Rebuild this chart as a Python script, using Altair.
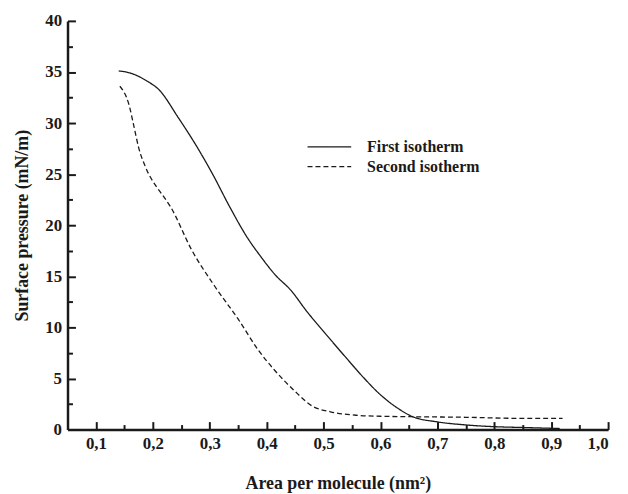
import altair as alt
import pandas as pd

first_x = [0.14, 0.16, 0.19, 0.21, 0.245, 0.275, 0.305, 0.335, 0.367, 0.39, 0.414, 0.443,
           0.47, 0.50, 0.54, 0.57, 0.60, 0.63, 0.657, 0.70, 0.75, 0.80, 0.85, 0.915]
first_y = [35.1, 34.9, 34.1, 33.3, 30.5, 27.9, 25.0, 21.8, 18.7, 16.9, 15.2, 13.6,
           11.6, 9.6, 7.0, 5.1, 3.4, 2.1, 1.25, 0.75, 0.45, 0.28, 0.2, 0.1]

second_x = [0.142, 0.158, 0.167, 0.175, 0.187, 0.207, 0.219, 0.231, 0.268, 0.309, 0.350,
            0.385, 0.414, 0.448, 0.480, 0.512, 0.557, 0.60, 0.663, 0.75, 0.837, 0.92]
second_y = [33.6, 31.8, 29.6, 27.6, 25.7, 23.7, 22.8, 21.8, 17.6, 14.0, 10.8,
            7.8, 5.8, 3.84, 2.3, 1.74, 1.4, 1.3, 1.25, 1.2, 1.1, 1.1]

series_names = ["First isotherm", "Second isotherm"]
x_major = [0.1, 0.2, 0.3, 0.4, 0.5, 0.6, 0.7, 0.8, 0.9, 1.0]
x_minor = [0.05, 0.15, 0.25, 0.35, 0.45, 0.55, 0.65, 0.75, 0.85, 0.95]
y_major = [0, 5, 10, 15, 20, 25, 30, 35, 40]
y_minor = [2.5, 7.5, 12.5, 17.5, 22.5, 27.5, 32.5, 37.5]

rows = []
for i, (xv, yv) in enumerate(zip(first_x, first_y)):
    rows.append({"x": xv, "y": yv, "series": series_names[0], "order": i})
for i, (xv, yv) in enumerate(zip(second_x, second_y)):
    rows.append({"x": xv, "y": yv, "series": series_names[1], "order": i})
df = pd.DataFrame(rows)

W, H = 545, 412
FONT = "Liberation Serif"
INK = "#1a1a1a"

xscale = alt.Scale(domain=[0.05, 1.0], nice=False, zero=False)
yscale = alt.Scale(domain=[0, 40], nice=False)

lines = alt.Chart(df).mark_line(strokeWidth=1.3, color=INK, interpolate="monotone").encode(
    x=alt.X("x:Q", scale=xscale, title="Area per molecule (nm²)",
            axis=alt.Axis(values=x_major, format=".1f",
                          labelExpr="replace(datum.label, '.', ',')",
                          ticks=False, grid=False, labelPadding=6,
                          domainWidth=2.5, domainColor=INK,
                          titlePadding=23)),
    y=alt.Y("y:Q", scale=yscale, title="Surface pressure (mN/m)",
            axis=alt.Axis(values=y_major, format="d", ticks=False, grid=False,
                          labelPadding=6, domainWidth=2.5, domainColor=INK,
                          titlePadding=13)),
    strokeDash=alt.StrokeDash(
        "series:N",
        scale=alt.Scale(domain=series_names, range=[[1, 0], [5, 3]]),
        legend=alt.Legend(title=None, orient="none", legendX=252, legendY=115,
                          symbolType="M-2,0H2", symbolSize=484, symbolStrokeWidth=1.3,
                          symbolStrokeColor=INK, symbolFillColor="transparent",
                          labelFont=FONT, labelFontSize=16,
                          labelFontWeight="bold", labelColor=INK, labelOffset=26,
                          rowPadding=0, padding=0),
    ),
    order="order:Q",
)

def tick_layer(xvals, yvals, size):
    n = max(len(xvals), len(yvals))
    tdf = pd.DataFrame({
        "tx": (xvals + [xvals[-1]] * n)[:n],
        "ty": (yvals + [yvals[-1]] * n)[:n],
    })
    return alt.Chart(tdf).mark_point(opacity=0).encode(
        x=alt.X("tx:Q", scale=xscale, title=None,
                axis=alt.Axis(orient="top", offset=-H, values=xvals, labels=False,
                              domain=False, grid=False, tickSize=size, tickWidth=2,
                              tickColor=INK)),
        y=alt.Y("ty:Q", scale=yscale, title=None,
                axis=alt.Axis(orient="right", offset=-W, values=yvals, labels=False,
                              domain=False, grid=False, tickSize=size, tickWidth=2,
                              tickColor=INK)),
    )

chart = alt.layer(
    lines,
    tick_layer(x_major, y_major, 8),
    tick_layer(x_minor, y_minor, 5),
).resolve_axis(x="independent", y="independent").properties(
    width=W, height=H,
    autosize=alt.AutoSizeParams(type="none"),
    padding={"left": 60, "top": 11, "right": 12, "bottom": 63},
).configure_view(stroke=None).configure_axis(
    labelFont=FONT, labelFontSize=17, labelFontWeight="bold", labelColor=INK,
    titleFont=FONT, titleFontSize=18, titleFontWeight="bold", titleColor=INK,
)

chart.save("out.html", embed_options={"renderer": "svg", "actions": False})
